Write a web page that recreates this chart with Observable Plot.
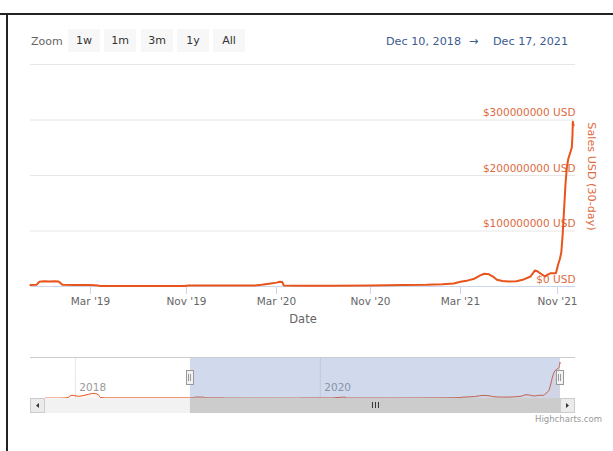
<!DOCTYPE html>
<html>
<head>
<meta charset="utf-8">
<script src="https://cdn.jsdelivr.net/npm/d3@7"></script>
<script src="https://cdn.jsdelivr.net/npm/@observablehq/plot@0.6"></script>
<style>
  html, body { margin: 0; padding: 0; background: #fff; }
  body { font-family: "DejaVu Sans", sans-serif; }
  #wrap { position: relative; width: 613px; height: 451px; overflow: hidden; background: #fff; }
  .bt { position: absolute; left: 0; top: 13px; width: 613px; height: 2px; background: #222; }
  .bl { position: absolute; left: 6px; top: 13px; width: 2px; height: 440px; background: #222; }
  .zl { position: absolute; left: 31px; top: 34px; font-size: 11px; color: #666; line-height: 16px; }
  .btn { position: absolute; top: 29px; height: 23px; width: 32px; background: #f7f7f7; color: #333;
         font-size: 11px; line-height: 23px; text-align: center; }
  .rng { position: absolute; top: 34px; font-size: 11.2px; color: #3b5b91; line-height: 16px; white-space: nowrap; }
  .credits { position: absolute; right: 11px; top: 414px; font-size: 8.5px; color: #999; white-space: nowrap; }
  #main { position: absolute; left: 0; top: 50px; }
  #nav { position: absolute; left: 0; top: 350px; }
</style>
</head>
<body>
<div id="wrap">
  <div class="bt"></div>
  <div class="bl"></div>
  <div class="zl">Zoom</div>
  <div id="buttons"></div>
  <div class="rng" style="left:386px">Dec 10, 2018</div>
  <div class="rng" style="left:469px">→</div>
  <div class="rng" style="left:493px">Dec 17, 2021</div>
  <div id="main"></div>
  <div id="nav"></div>
  <div class="credits">Highcharts.com</div>
</div>
<script>
// ---------------- data ----------------
const zoomButtons = ["1w", "1m", "3m", "1y", "All"];

const rangeStart = "2018-12-10";
const rangeEnd = "2021-12-17";

// 30-day sales (USD millions) shown in the main chart
const seriesDates = [
  "2018-12-10","2018-12-18","2018-12-22","2018-12-28","2019-01-05","2019-01-12","2019-01-17","2019-01-22",
  "2019-02-10","2019-03-01","2019-03-20","2019-03-25","2019-06-01","2019-09-01","2019-10-28","2019-11-03",
  "2019-12-01","2020-01-01","2020-02-01","2020-02-10","2020-02-20","2020-03-01","2020-03-10","2020-03-16",
  "2020-03-20","2020-05-01","2020-08-01","2020-11-01","2020-12-15","2021-01-15","2021-02-05","2021-02-20",
  "2021-03-01","2021-03-20","2021-04-05","2021-04-20","2021-04-30","2021-05-12","2021-05-22","2021-06-01",
  "2021-06-15","2021-07-01","2021-07-20","2021-08-05","2021-08-25","2021-09-05","2021-09-12","2021-09-22",
  "2021-10-01","2021-10-06","2021-10-15","2021-10-28","2021-11-03","2021-11-08","2021-11-12","2021-11-16",
  "2021-11-20","2021-11-24","2021-11-28","2021-12-02","2021-12-08","2021-12-12","2021-12-14","2021-12-15",
  "2021-12-17"
];
const seriesUSDm = [
  2.5, 3, 8.5, 9.5, 9, 9.5, 9, 3,
  2.5, 2.5, 2, 1, 0.8, 0.8, 0.8, 1.8,
  1.8, 1.8, 2, 3, 5, 7, 8.5, 8,
  2, 1.5, 1.5, 2, 2.5, 3, 4, 5.5,
  8.5, 11, 14, 20, 23, 22, 18, 12,
  10, 9, 9.5, 12, 18, 29, 27, 22,
  18, 21, 24, 24, 40, 50, 62, 95,
  140, 185, 215, 230, 242, 250, 270, 297,
  290
];

// earlier history only visible in the navigator
const navHistoryDates = [
  "2017-10-04","2017-11-15","2017-12-01","2017-12-10","2017-12-17","2017-12-26","2018-01-10","2018-01-25",
  "2018-02-10","2018-02-21","2018-03-02","2018-03-10","2018-03-17","2018-04-01","2018-09-01","2018-12-09"
];
const navHistoryUSDm = [
  0.5, 1, 2, 5, 20, 24, 15, 22,
  32, 40, 38, 30, 5, 2.5, 2.5, 2.5
];

const xTickDates = ["2019-03-01","2019-11-01","2020-03-01","2020-11-01","2021-03-01","2021-11-01"];
const xTickLabels = ["Mar '19","Nov '19","Mar '20","Nov '20","Mar '21","Nov '21"];
const yTicks = [0, 100e6, 200e6, 300e6, 400e6];
const yTickLabels = ["$0 USD","$100000000 USD","$200000000 USD","$300000000 USD",""];
const navYearTicks = ["2018-01-01","2020-01-01"];
const navYearLabels = ["2018","2020"];
const navStart = "2017-10-04";

// ---------------- build ----------------
const parse = s => new Date(s + "T00:00:00Z");
const series = seriesDates.map((d, i) => ({date: parse(d), usd: seriesUSDm[i] * 1e6}));
const navData = navHistoryDates.map((d, i) => ({date: parse(d), usd: navHistoryUSDm[i] * 1e6})).concat(series);

const btnWrap = document.getElementById("buttons");
const btnLefts = [68, 104, 141, 177, 213];
zoomButtons.forEach((b, i) => {
  const el = document.createElement("div");
  el.className = "btn";
  el.style.left = btnLefts[i] + "px";
  el.textContent = b;
  btnWrap.appendChild(el);
});

const xLabelMap = new Map(xTickDates.map((d, i) => [+parse(d), xTickLabels[i]]));
const yLabelMap = new Map(yTicks.map((v, i) => [v, yTickLabels[i]]));

const orange = "#e8541c";
const orangeText = "#dc6b40";

// Highcharts stock uses an ordinal axis: piecewise time scale anchored at the ticks
const xDomain = [parse(rangeStart), ...xTickDates.map(parse), parse(rangeEnd)];
const xRange = [30, 90, 186, 276, 370, 460, 557, 573];

const main = Plot.plot({
  width: 613,
  height: 290,
  marginLeft: 30,
  marginRight: 38,
  marginTop: 14,
  marginBottom: 54,
  style: {fontFamily: "DejaVu Sans, sans-serif", background: "transparent", overflow: "visible"},
  x: {type: "utc", domain: xDomain, range: xRange},
  y: {domain: [0, 400e6], range: [236, 14]},
  marks: [
    Plot.gridY(yTicks.slice(1), {stroke: "#e6e6e6", strokeOpacity: 1}),
    Plot.ruleY([0], {stroke: "#ccd6eb"}),
    Plot.axisX(xTickDates.map(parse), {
      tickSize: 8, tickPadding: 3, stroke: "#ccd6eb", strokeOpacity: 1,
      tickFormat: d => xLabelMap.get(+d), fill: "#666", fontSize: 10.5, label: null
    }),
    Plot.axisY(yTicks.slice(0, 4), {
      anchor: "right", tickSize: 0, tickPadding: 0, textAnchor: "end", dy: -7,
      tickFormat: d => yLabelMap.get(d), fill: orangeText, fontSize: 10.5, label: null
    }),
    Plot.text(["Date"], {frameAnchor: "bottom", dy: 36, fill: "#666", fontSize: 11.5}),
    Plot.text(["Sales USD (30-day)"], {frameAnchor: "right", textAnchor: "middle", rotate: 90, dx: 16, dy: 1, fill: orangeText, fontSize: 11.2}),
    Plot.lineY(series, {x: "date", y: "usd", stroke: orange, strokeWidth: 2, curve: "linear"})
  ]
});
document.getElementById("main").appendChild(main);

const nav = Plot.plot({
  width: 613,
  height: 70,
  marginLeft: 45,
  marginRight: 53,
  marginTop: 7,
  marginBottom: 22,
  style: {fontFamily: "DejaVu Sans, sans-serif", background: "transparent", overflow: "visible"},
  x: {type: "utc", domain: [parse(navStart), parse(rangeEnd)], range: [45, 560], axis: null},
  y: {domain: [0, 300e6], range: [47.7, 11.3], axis: null},
  marks: [
    Plot.ruleX(navYearTicks.map(parse), {stroke: "#e6e6e6"}),
    Plot.areaY(navData, {x: "date", y: "usd", fill: orange, fillOpacity: 0.05, curve: "monotone-x"}),
    Plot.lineY(navData, {x: "date", y: "usd", stroke: orange, strokeWidth: 1, curve: "monotone-x"}),
    Plot.text(navYearTicks.map(parse), {x: d => d, text: (d, i) => navYearLabels[i], frameAnchor: "bottom",
      textAnchor: "start", dx: 4, dy: -8, fill: "#999", fontSize: 10.5}),
    Plot.rect([{a: parse(rangeStart), b: parse(rangeEnd)}], {x1: "a", x2: "b", fill: "rgb(102,133,194)", fillOpacity: 0.3})
  ]
});
document.getElementById("nav").appendChild(nav);

// navigator chrome: outline, handles, scrollbar
const xs = nav.scale("x");
const h1 = xs.apply(parse(rangeStart));
const h2 = xs.apply(parse(rangeEnd));
const svg = d3.select(nav);
const g = svg.append("g");
const topY = 7, botY = 48;
g.append("line").attr("x1", 30).attr("x2", 575).attr("y1", topY + 0.5).attr("y2", topY + 0.5).attr("stroke", "#cccccc");
// scrollbar
const sbY = botY, sbH = 15;
g.append("rect").attr("x", 30).attr("y", sbY).attr("width", 545).attr("height", sbH).attr("fill", "#f2f2f2");
g.append("rect").attr("x", h1).attr("y", sbY).attr("width", h2 - h1).attr("height", sbH).attr("fill", "#cccccc");
[30, 560].forEach((bx, i) => {
  g.append("rect").attr("x", bx + 0.5).attr("y", sbY + 0.5).attr("width", 14).attr("height", sbH - 1)
    .attr("fill", "#ebebeb").attr("stroke", "#cccccc");
  const cx = bx + 7.5, cy = sbY + 7.5;
  const p = i === 0 ? `M${cx + 1.5},${cy - 2.5}L${cx - 1.5},${cy}L${cx + 1.5},${cy + 2.5}Z`
                    : `M${cx - 1.5},${cy - 2.5}L${cx + 1.5},${cy}L${cx - 1.5},${cy + 2.5}Z`;
  g.append("path").attr("d", p).attr("fill", "#333");
});
const gc = (h1 + h2) / 2;
[-3, 0, 3].forEach(o => {
  g.append("line").attr("x1", gc + o + 0.5).attr("x2", gc + o + 0.5).attr("y1", sbY + 4).attr("y2", sbY + 10)
    .attr("stroke", "#333").attr("stroke-width", 1);
});
// handles
[h1, h2].forEach(hx => {
  const x0 = Math.round(hx) - 3.5;
  g.append("rect").attr("x", x0).attr("y", 20.5).attr("width", 7).attr("height", 14)
    .attr("fill", "#f2f2f2").attr("stroke", "#999").attr("stroke-width", 1);
  [-1, 1].forEach(o => {
    g.append("line").attr("x1", Math.round(hx) + o - 0.5).attr("x2", Math.round(hx) + o - 0.5)
      .attr("y1", 24).attr("y2", 31).attr("stroke", "#999");
  });
});
</script>
</body>
</html>
